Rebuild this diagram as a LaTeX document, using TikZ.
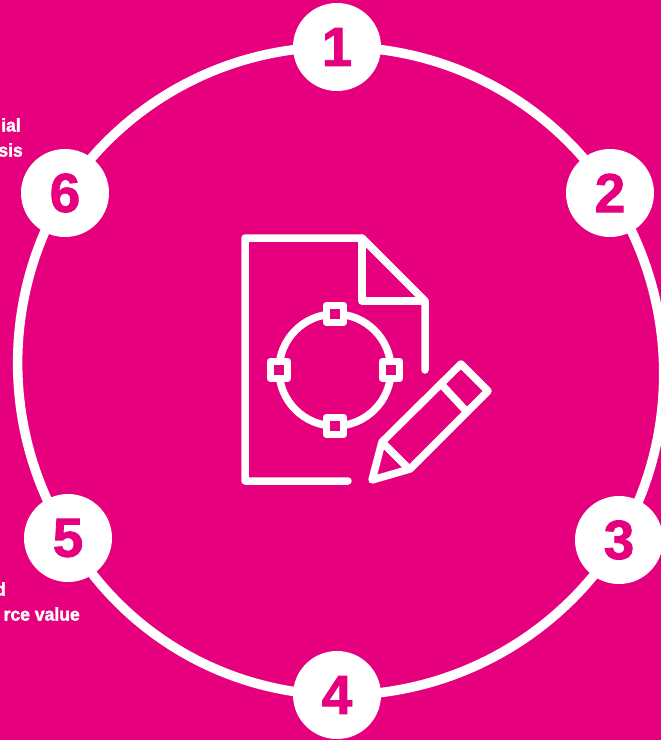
\documentclass[tikz,border=0pt]{standalone}
\usepackage{fontspec}
\setmainfont{Liberation Sans}
\newfontfamily\notefont[FakeStretch=0.95,FakeBold=1.5]{Liberation Sans}
\newfontfamily\numfont[FakeStretch=1.0,FakeBold=1.5]{Liberation Sans}
\usetikzlibrary{backgrounds}
\definecolor{accent}{HTML}{E6007E}
\begin{document}
\begin{tikzpicture}[x=1pt,y=-1pt,
  stepnum/.style={circle,fill=white,text=accent,minimum size=88pt,inner sep=0pt,
                  font=\numfont\fontsize{55}{55}\selectfont\bfseries},
  note/.style={text=white,anchor=east,inner sep=0pt,font=\notefont\fontsize{18.5}{18.5}\selectfont\bfseries},
  ringline/.style={draw=white,line width=9.5pt,looseness=0.91},
  icon/.style={draw=white,line width=7.5pt,line cap=round,line join=round},
  handle/.style={icon,fill=accent}]
\useasboundingbox (0,0) rectangle (661,740);
\node[stepnum](n1) at (337,47){1}; \node[stepnum](n2) at (610,193){2};
\node[stepnum](n3) at (619,540){3}; \node[stepnum](n4) at (337,695){4};
\node[stepnum](n5) at (68,538){5}; \node[stepnum](n6) at (65,193){6};
\node[note](t1) at (21,125){ial}; \node[note](t2) at (23,150){sis};
\node[note](t3) at (6,589){d}; \node[note](t4) at (80,614){rce value};
\begin{scope}[on background layer]
\fill[accent](0,0) rectangle (661,740);
\draw[ringline](n1.center) to[bend left=28.5] (n2.center);
\draw[ringline](n2.center) to[bend left=32] (n3.center);
\draw[ringline](n3.center) to[bend left=29.5] (n4.center);
\draw[ringline](n4.center) to[bend left=29.5] (n5.center);
\draw[ringline](n5.center) to[bend left=32] (n6.center);
\draw[ringline](n6.center) to[bend left=28.5] (n1.center);
\end{scope}
% sheet
\draw[icon](348,481)--(245,481)--(245,238)--(362,238)--(425,301)--(425,370);
\draw[icon](362,238)--(362,301)--(425,301);
% curve with handles
\draw[icon](335,370) circle (56);
\foreach \x/\y in {335/314,279/370,391/370,335/426}
  \draw[handle](\x-8.5,\y-8.5) rectangle (\x+8.5,\y+8.5);
% pencil
\draw[icon](372,480)--(382,442)--(461,364)--(488,391)--(410,469)--cycle;
\draw[icon](441,384)--(467,412);
\draw[icon](384,444)--(408,468);
\end{tikzpicture}
\end{document}
